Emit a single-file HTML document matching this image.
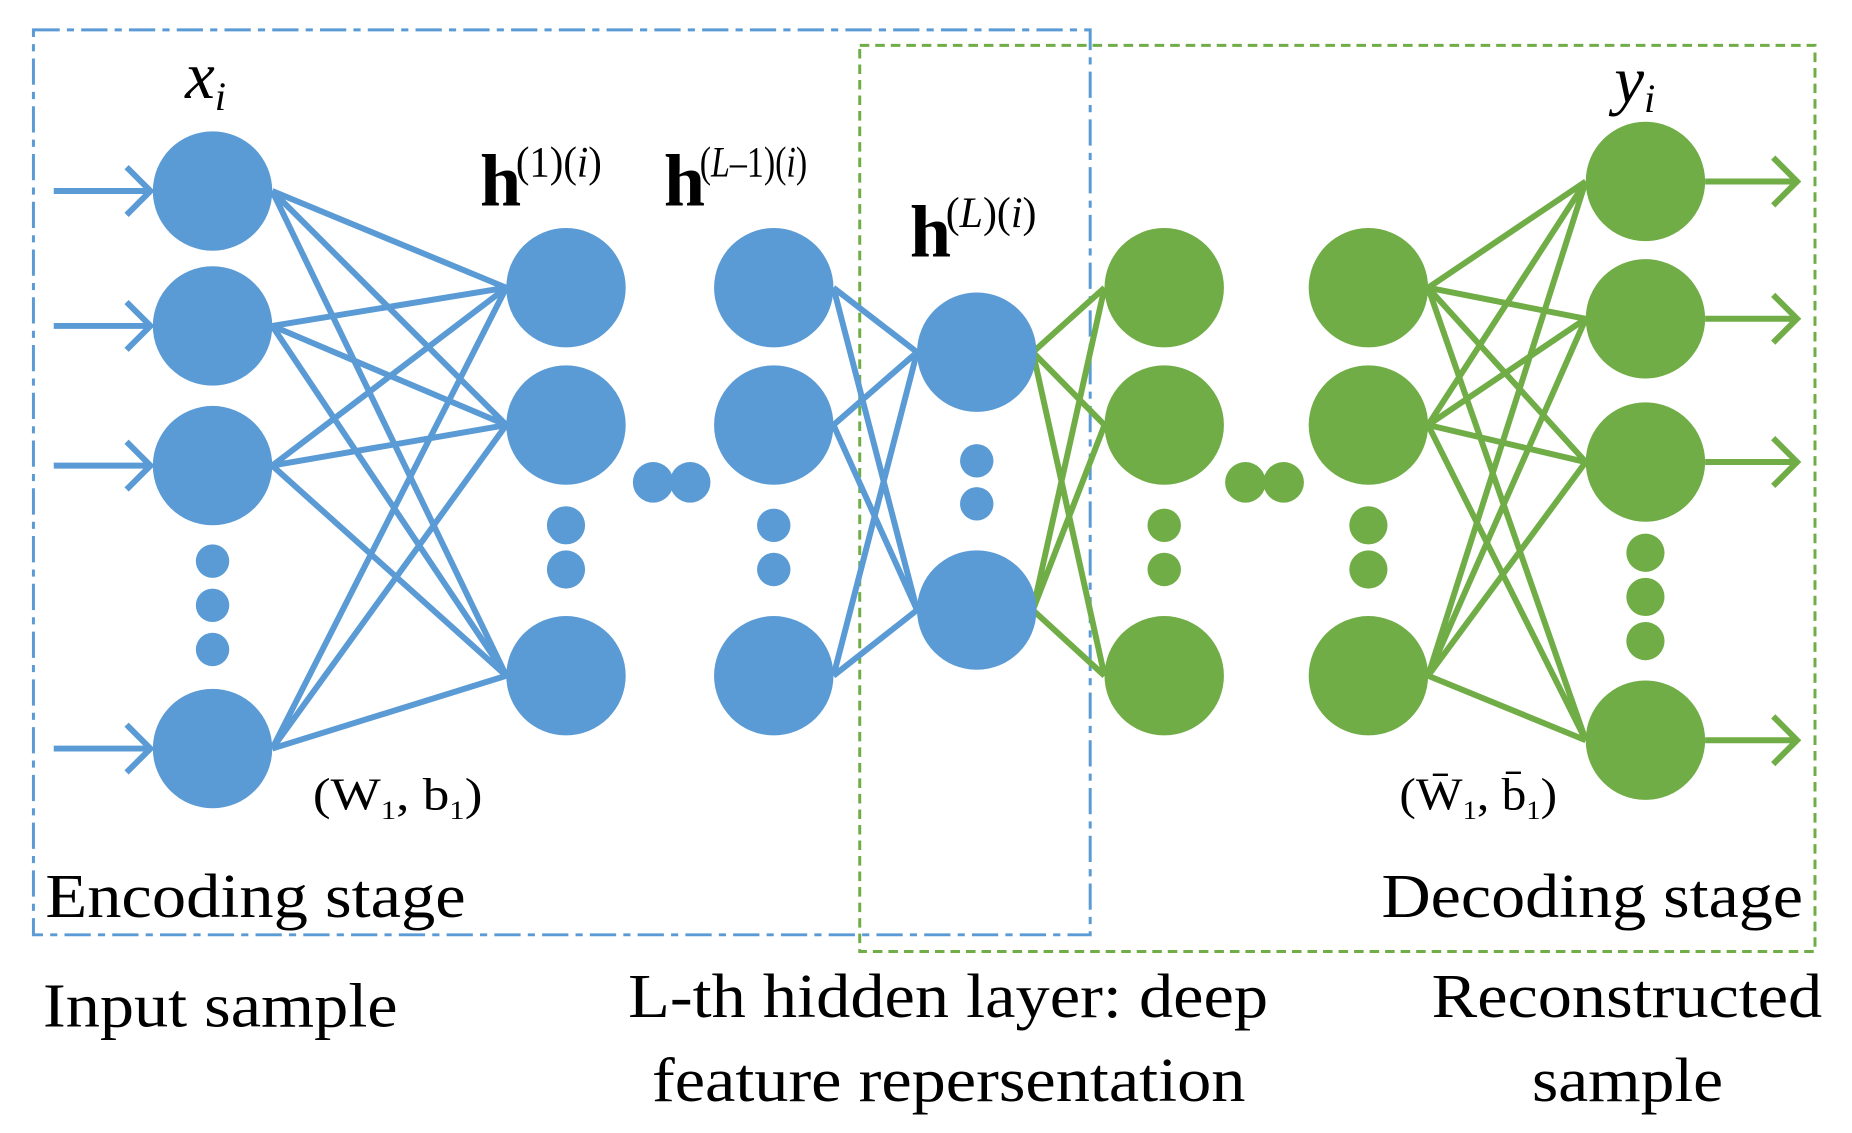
<!DOCTYPE html>
<html><head><meta charset="utf-8"><style>html,body{margin:0;padding:0;background:#fff}svg{display:block}</style></head><body>
<svg width="1852" height="1133" viewBox="0 0 1551 949" preserveAspectRatio="none" xmlns="http://www.w3.org/2000/svg" font-family="Liberation Serif, serif">
<rect x="28" y="25" width="885" height="758" fill="none" stroke="#5B9BD5" stroke-width="2.5" stroke-dasharray="22,6,6,6"/>
<rect x="720" y="38" width="800" height="759" fill="none" stroke="#70AD47" stroke-width="2.5" stroke-dasharray="8,5"/>
<g stroke="#5B9BD5" stroke-width="5" fill="none">
<path d="M45 160H126M106 140L126 160L106 180M45 273H126M106 253L126 273L106 293M45 390H126M106 370L126 390L106 410M45 627H126M106 607L126 627L106 647"/>
<path d="M228 160L424 241M228 160L424 356M228 160L424 566M228 273L424 241M228 273L424 356M228 273L424 566M228 390L424 241M228 390L424 356M228 390L424 566M228 627L424 241M228 627L424 356M228 627L424 566"/>
<path d="M698 241L768 295M698 241L768 511M698 356L768 295M698 356L768 511M698 566L768 295M698 566L768 511"/>
</g>
<g stroke="#70AD47" stroke-width="5" fill="none">
<path d="M865 295L925 241M865 295L925 356M865 295L925 566M865 511L925 241M865 511L925 356M865 511L925 566"/>
<path d="M1196 241L1328 152M1196 241L1328 267M1196 241L1328 387M1196 241L1328 620M1196 356L1328 152M1196 356L1328 267M1196 356L1328 387M1196 356L1328 620M1196 566L1328 152M1196 566L1328 267M1196 566L1328 387M1196 566L1328 620"/>
<path d="M1428 152H1503M1485 132L1505 152L1485 172M1428 267H1503M1485 247L1505 267L1485 287M1428 387H1503M1485 367L1505 387L1485 407M1428 620H1503M1485 600L1505 620L1485 640"/>
</g>
<g fill="#5B9BD5">
<circle cx="178" cy="160" r="50"/><circle cx="178" cy="273" r="50"/><circle cx="178" cy="390" r="50"/><circle cx="178" cy="627" r="50"/>
<circle cx="178" cy="470" r="14"/><circle cx="178" cy="507" r="14"/><circle cx="178" cy="544" r="14"/>
<circle cx="474" cy="241" r="50"/><circle cx="474" cy="356" r="50"/><circle cx="474" cy="566" r="50"/>
<circle cx="474" cy="440" r="16"/><circle cx="474" cy="477" r="16"/>
<circle cx="547" cy="404" r="17"/><circle cx="578" cy="404" r="17"/>
<circle cx="648" cy="241" r="50"/><circle cx="648" cy="356" r="50"/><circle cx="648" cy="566" r="50"/>
<circle cx="648" cy="440" r="14"/><circle cx="648" cy="477" r="14"/>
<circle cx="818" cy="295" r="50"/><circle cx="818" cy="511" r="50"/>
<circle cx="818" cy="386" r="14"/><circle cx="818" cy="422" r="14"/>
</g>
<g fill="#70AD47">
<circle cx="975" cy="241" r="50"/><circle cx="975" cy="356" r="50"/><circle cx="975" cy="566" r="50"/>
<circle cx="975" cy="440" r="14"/><circle cx="975" cy="477" r="14"/>
<circle cx="1043" cy="404" r="17"/><circle cx="1075" cy="404" r="17"/>
<circle cx="1146" cy="241" r="50"/><circle cx="1146" cy="356" r="50"/><circle cx="1146" cy="566" r="50"/>
<circle cx="1146" cy="440" r="16"/><circle cx="1146" cy="477" r="16"/>
<circle cx="1378" cy="152" r="50"/><circle cx="1378" cy="267" r="50"/><circle cx="1378" cy="387" r="50"/><circle cx="1378" cy="620" r="50"/>
<circle cx="1378" cy="463" r="16"/><circle cx="1378" cy="500" r="16"/><circle cx="1378" cy="537" r="16"/>
</g>
<g fill="#000">
<text x="155" y="82" font-size="56" font-style="italic">x<tspan font-size="34" dy="10">i</tspan></text>
<text x="1352" y="86" font-size="56" font-style="italic">y<tspan font-size="34" dy="8">i</tspan></text>
<text x="402" y="172" font-size="62" font-weight="bold">h</text><text x="432" y="148" font-size="36" textLength="72" lengthAdjust="spacingAndGlyphs">(1)(<tspan font-style="italic">i</tspan>)</text>
<text x="556" y="172" font-size="62" font-weight="bold">h</text><text x="586" y="148" font-size="36" textLength="90" lengthAdjust="spacingAndGlyphs">(<tspan font-style="italic">L</tspan>–1)(<tspan font-style="italic">i</tspan>)</text>
<text x="762" y="215" font-size="62" font-weight="bold">h</text><text x="792" y="190" font-size="36" textLength="76" lengthAdjust="spacingAndGlyphs">(<tspan font-style="italic">L</tspan>)(<tspan font-style="italic">i</tspan>)</text>
<text x="262" y="678" font-size="38" textLength="142" lengthAdjust="spacingAndGlyphs">(W<tspan font-size="22" dy="8">1</tspan><tspan dy="-8">, b</tspan><tspan font-size="22" dy="8">1</tspan><tspan dy="-8">)</tspan></text>
<text x="1172" y="678" font-size="38" textLength="132" lengthAdjust="spacingAndGlyphs">(W̄<tspan font-size="22" dy="8">1</tspan><tspan dy="-8">, b̄</tspan><tspan font-size="22" dy="8">1</tspan><tspan dy="-8">)</tspan></text>
<text x="38" y="768" font-size="52" textLength="352" lengthAdjust="spacingAndGlyphs">Encoding stage</text>
<text x="1157" y="768" font-size="52" textLength="353" lengthAdjust="spacingAndGlyphs">Decoding stage</text>
<text x="36" y="860" font-size="52" textLength="297" lengthAdjust="spacingAndGlyphs">Input sample</text>
<text x="526" y="852" font-size="52" textLength="536" lengthAdjust="spacingAndGlyphs">L-th hidden layer: deep</text>
<text x="546" y="922" font-size="52" textLength="497" lengthAdjust="spacingAndGlyphs">feature repersentation</text>
<text x="1199" y="852" font-size="52" textLength="327" lengthAdjust="spacingAndGlyphs">Reconstructed</text>
<text x="1283" y="922" font-size="52" textLength="160" lengthAdjust="spacingAndGlyphs">sample</text>
</g>
</svg>
</body></html>
